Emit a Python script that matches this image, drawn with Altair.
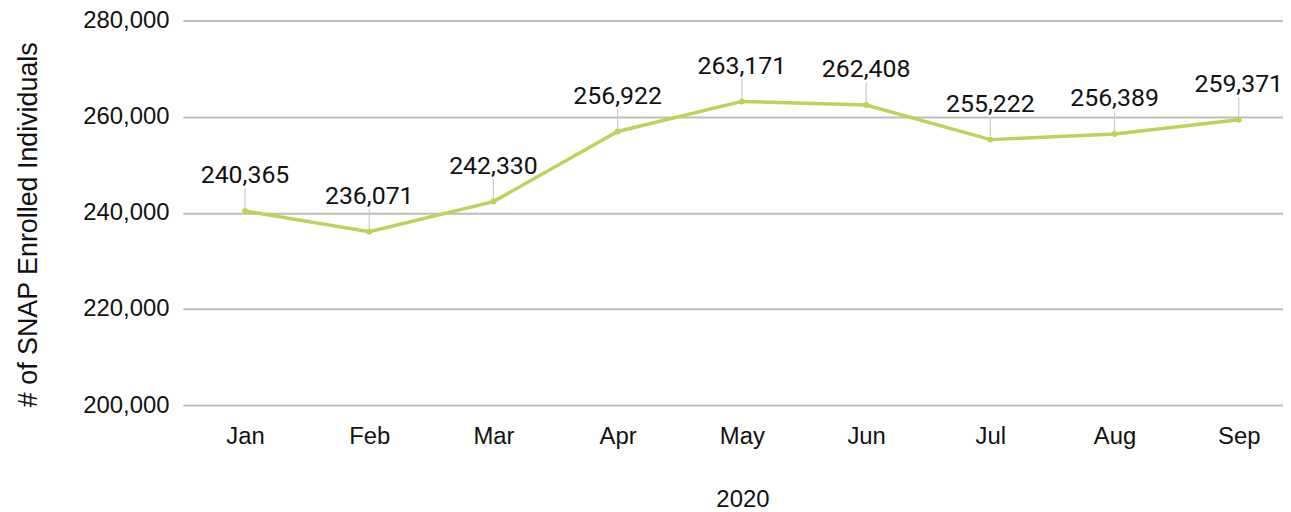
import altair as alt
import pandas as pd

months = ["Jan", "Feb", "Mar", "Apr", "May", "Jun", "Jul", "Aug", "Sep"]
enrolled = [240365, 236071, 242330, 256922, 263171, 262408, 255222, 256389, 259371]
y_ticks = [200000, 220000, 240000, 260000, 280000]

df = pd.DataFrame({"month": months, "enrolled": enrolled})

LINE = "#bcd25a"
TXT = "#111111"

x = alt.X(
    "month:N",
    sort=months,
    scale=alt.Scale(type="point", padding=0.428, align=0.584),
    axis=alt.Axis(
        title="2020",
        labelAngle=0,
        labelFont="Liberation Sans",
        labelFontSize=24,
        labelColor=TXT,
        labelPadding=20,
        ticks=False,
        domain=False,
        grid=False,
        titleFont="Liberation Sans",
        titleFontSize=24,
        titleFontWeight="normal",
        titleColor=TXT,
        titleBaseline="alphabetic",
        titleX=563,
        titleY=102,
    ),
)

y = alt.Y(
    "enrolled:Q",
    scale=alt.Scale(domain=[200000, 280000], nice=False, zero=False),
    axis=alt.Axis(
        title="# of SNAP Enrolled Individuals",
        values=y_ticks,
        format=",d",
        labelFont="Liberation Sans",
        labelFontSize=24,
        labelColor=TXT,
        labelPadding=14,
        ticks=False,
        domain=False,
        grid=True,
        gridColor="#bdbdbd",
        gridWidth=2,
        titleFont="Liberation Sans",
        titleFontSize=27,
        titleFontWeight="normal",
        titleColor=TXT,
        titleBaseline="alphabetic",
        titleX=-147,
        titleY=205,
    ),
)

base = alt.Chart(df)

line = base.mark_line(color=LINE, strokeWidth=3.5).encode(x=x, y=y)
pts = base.mark_circle(color=LINE, size=36, opacity=1).encode(x=x, y=y)
leaders = base.mark_rule(color="#cccccc", strokeWidth=1.2, y2Offset=-23).encode(
    x=x, y=y, y2=alt.Y2("enrolled:Q")
)
halo = base.mark_text(
    font="Roboto", fontSize=25, baseline="alphabetic", dy=-28,
    stroke="white", strokeWidth=4, strokeJoin="round", fill="white",
).encode(x=x, y=y, text=alt.Text("enrolled:Q", format=",d"))
labels = base.mark_text(
    font="Roboto", fontSize=25, baseline="alphabetic", dy=-28, color=TXT,
).encode(x=x, y=y, text=alt.Text("enrolled:Q", format=",d"))

chart = (
    alt.layer(leaders, line, pts, halo, labels)
    .properties(
        width=1107,
        height=387,
        padding={"left": 176, "top": 11, "right": 0, "bottom": 106},
        autosize=alt.AutoSizeParams(type="none"),
        background="white",
    )
    .configure_view(stroke=None)
)

chart.save("out.html", embed_options={"renderer": "svg", "actions": False})
